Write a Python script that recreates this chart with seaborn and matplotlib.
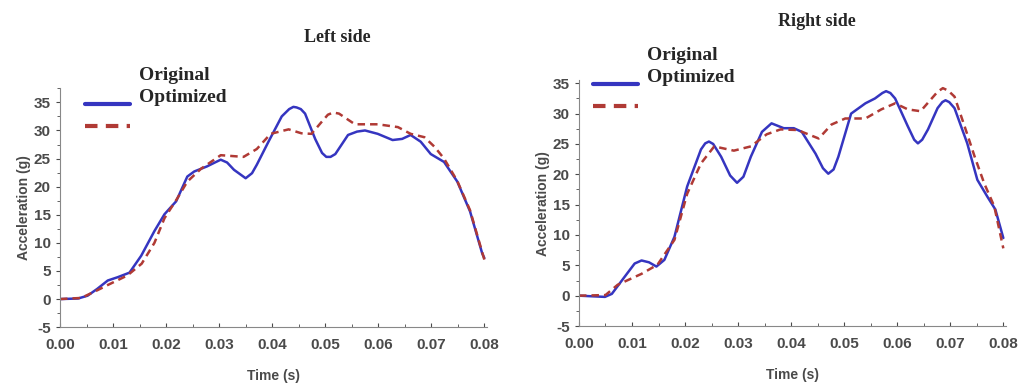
import numpy as np
import pandas as pd
import matplotlib
matplotlib.use("Agg")
import matplotlib.pyplot as plt
import seaborn as sns
from matplotlib.ticker import MultipleLocator

# --- values ---
left_t_orig = [0, 0.0034, 0.0052, 0.0070, 0.009, 0.0109, 0.0131, 0.0153, 0.0178, 0.0197, 0.0219, 0.024,
               0.0253, 0.0277, 0.0292, 0.0303, 0.0315, 0.0328, 0.035, 0.0362, 0.0371, 0.0393, 0.0418,
               0.0432, 0.0440, 0.0446, 0.0454, 0.0462, 0.0481, 0.0494, 0.0502, 0.0510, 0.0519, 0.0543,
               0.0560, 0.0575, 0.0599, 0.0627, 0.0645, 0.0661, 0.068, 0.0699, 0.0724, 0.0749, 0.0773,
               0.0796, 0.080]
left_orig = [0, 0.1, 0.6, 1.8, 3.3, 3.9, 4.7, 7.7, 12.1, 15.1, 17.4, 21.8,
             22.7, 23.6, 24.3, 24.8, 24.3, 23.0, 21.5, 22.4, 23.9, 28.0, 32.5,
             33.8, 34.2, 34.1, 33.8, 33.0, 28.5, 26.0, 25.3, 25.3, 25.8, 29.2,
             29.8, 30.0, 29.4, 28.3, 28.5, 29.2, 28.0, 25.8, 24.4, 20.9, 15.6,
             8.1, 7.3]

left_t_opt = [0, 0.004, 0.0071, 0.009, 0.0127, 0.0154, 0.0178, 0.0197, 0.0221, 0.024, 0.0266, 0.0303,
              0.0346, 0.0371, 0.0397, 0.0431, 0.0455, 0.0474, 0.0493, 0.0505, 0.0515, 0.0526, 0.0537,
              0.0556, 0.0599, 0.0637, 0.0661, 0.0687, 0.0706, 0.0724, 0.0749, 0.0773, 0.0796, 0.080]
left_opt = [0, 0.2, 1.6, 2.5, 4.2, 6.3, 10.0, 14.4, 17.9, 20.9, 23.2, 25.6,
            25.3, 26.7, 29.4, 30.2, 29.5, 29.4, 31.5, 32.8, 33.2, 33.0, 32.3,
            31.1, 31.1, 30.6, 29.4, 28.8, 27.1, 25.0, 21.0, 15.8, 8.3, 7.0]

right_t_orig = [0, 0.0049, 0.0062, 0.0086, 0.0105, 0.0118, 0.0132, 0.0146, 0.0161, 0.018, 0.0204,
                0.023, 0.0238, 0.0245, 0.0253, 0.0268, 0.0285, 0.0298, 0.0310, 0.0324, 0.0345, 0.0363,
                0.0386, 0.0405, 0.042, 0.0446, 0.0460, 0.047, 0.0480, 0.0489, 0.0513, 0.054, 0.0558,
                0.0572, 0.0579, 0.0587, 0.0596, 0.062, 0.0632, 0.0639, 0.0647, 0.0658, 0.0676, 0.0685,
                0.0691, 0.0698, 0.0708, 0.0732, 0.0751, 0.077, 0.0785, 0.080]
right_orig = [0, -0.2, 0.3, 3.1, 5.3, 5.8, 5.5, 4.8, 5.9, 9.7, 18.0,
              24.1, 25.1, 25.4, 25.0, 22.9, 19.8, 18.6, 19.6, 22.9, 27.0, 28.4,
              27.6, 27.6, 27.0, 23.4, 21.0, 20.1, 20.8, 22.9, 30.0, 31.7, 32.5,
              33.4, 33.7, 33.4, 32.5, 27.9, 25.7, 25.1, 25.7, 27.4, 30.9, 31.9,
              32.2, 31.9, 30.9, 25.1, 19.1, 16.3, 14.2, 9.5]

right_t_opt = [0, 0.005, 0.0073, 0.0118, 0.0148, 0.018, 0.0204, 0.023, 0.0255, 0.0292, 0.0324, 0.0354,
               0.038, 0.0412, 0.0452, 0.0476, 0.0502, 0.054, 0.057, 0.0596, 0.062, 0.0644, 0.0663,
               0.0676, 0.0686, 0.0696, 0.0708, 0.0727, 0.0746, 0.0764, 0.0783, 0.080]
right_opt = [0, 0.1, 1.8, 3.6, 5.1, 9.2, 16.8, 21.8, 24.6, 23.9, 24.6, 26.6,
             27.4, 27.3, 25.9, 28.2, 29.2, 29.2, 30.7, 31.7, 30.7, 30.4, 32.3,
             33.6, 34.2, 33.8, 32.8, 27.9, 22.9, 18.5, 14.7, 7.8]

x_ticks = [0.00, 0.01, 0.02, 0.03, 0.04, 0.05, 0.06, 0.07, 0.08]
y_ticks = [-5, 0, 5, 10, 15, 20, 25, 30, 35]

blue = "#3535c0"
red = "#b03a35"
gray = "#4a4a4a"

sns.set_style("ticks")
plt.rcParams["font.family"] = ["Liberation Sans", "DejaVu Sans"]
plt.rcParams["axes.unicode_minus"] = False

fig = plt.figure(figsize=(10.24, 3.84), dpi=100)
ax_l = fig.add_axes([0.0586, 0.148, 0.417, 0.622])
ax_r = fig.add_axes([0.5654, 0.151, 0.417, 0.640])

panels = [
    (ax_l, left_t_orig, left_orig, left_t_opt, left_opt, 37.5, "Left side", (337, 37), (85, 97)),
    (ax_r, right_t_orig, right_orig, right_t_opt, right_opt, 35.5, "Right side", (817, 21), (593, 77)),
]

sans = {"family": ["Liberation Sans", "DejaVu Sans"], "weight": "bold"}

for ax, t1, y1, t2, y2, ytop, title, tpos, lpos in panels:
    sns.lineplot(x=t1, y=y1, ax=ax, color=blue, linewidth=1.8, sort=False, label="Original",
                 solid_joinstyle="round")
    sns.lineplot(x=t2, y=y2, ax=ax, color=red, linewidth=1.8, sort=False, label="Optimized",
                 linestyle=(0, (3, 2)), dash_joinstyle="round")
    ax.set_xlim(0, 0.0805)
    ax.set_ylim(-5, ytop)
    ax.set_xticks(x_ticks)
    ax.set_yticks(y_ticks)
    ax.xaxis.set_minor_locator(MultipleLocator(0.005))
    ax.yaxis.set_minor_locator(MultipleLocator(2.5))
    ax.set_xticklabels([f"{v:.2f}" for v in x_ticks])
    ax.set_yticklabels([str(v) for v in y_ticks])
    ax.tick_params(axis="both", which="major", labelsize=11, colors=gray, length=3, width=0.8)
    ax.tick_params(axis="both", which="minor", colors=gray, length=2, width=0.6)
    ax.tick_params(axis="x", which="both", direction="in", pad=8)
    for lab in ax.get_xticklabels() + ax.get_yticklabels():
        lab.set_fontweight("bold")
    for s in ["left", "bottom"]:
        ax.spines[s].set_color("#888888")
        ax.spines[s].set_linewidth(0.8)
    sns.despine(ax=ax)
    ax.set_xlabel("Time (s)", fontsize=10, color=gray, labelpad=12, **sans)
    ax.set_ylabel("Acceleration (g)", fontsize=10, color=gray, labelpad=2, **sans)

    fig.text(tpos[0] / 1024, 1 - tpos[1] / 384, title, ha="center", va="center",
             fontsize=13, fontweight="bold", family="Liberation Serif")

    leg = ax.legend(loc="upper left", bbox_to_anchor=(lpos[0] / 1024, 1 - lpos[1] / 384),
                    bbox_transform=fig.transFigure, frameon=False, borderpad=0, borderaxespad=0,
                    handlelength=2.3, handletextpad=0.5, labelspacing=0.25,
                    prop={"family": "Liberation Serif", "weight": "bold", "size": 14})
    for line in leg.get_lines():
        line.set_linewidth(3)
    for txt in leg.get_texts():
        txt.set_y(31)

fig.savefig("out.png", dpi=100)
